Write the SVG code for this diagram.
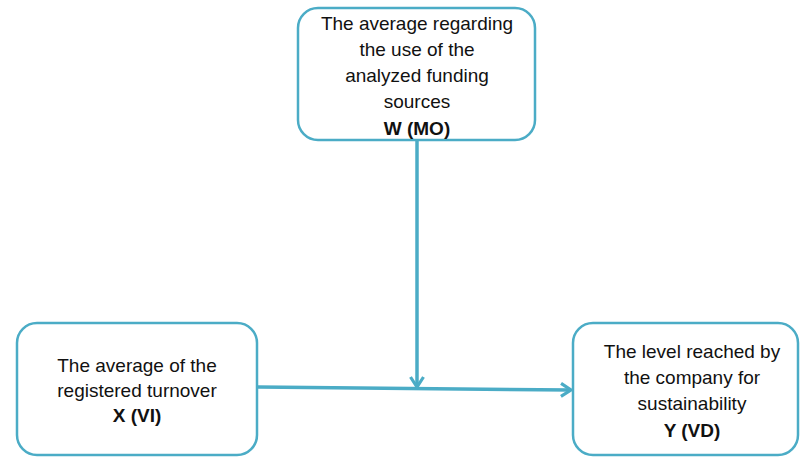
<svg xmlns="http://www.w3.org/2000/svg" width="800" height="457" viewBox="0 0 800 457">
<defs>
<style>
.box{fill:#ffffff;stroke:#4bacc6;stroke-width:2.5}
.t{font-family:"Liberation Sans",Arial,sans-serif;font-size:19px;fill:#111;text-anchor:middle}
.b{font-weight:bold}
.c{stroke:#4bacc6;stroke-width:3.5;fill:none}
</style>
<marker id="ah" markerWidth="16" markerHeight="16" refX="12" refY="8" orient="auto" markerUnits="userSpaceOnUse">
<path d="M2,1.5 L12,8 L2,14.5" fill="none" stroke="#4bacc6" stroke-width="3.2"/>
</marker>
</defs>
<rect width="800" height="457" fill="#ffffff"/>
<g id="connectors">
<line class="c" x1="258" y1="387" x2="571" y2="390" marker-end="url(#ah)"/>
<line class="c" x1="417" y1="141" x2="417" y2="387" marker-end="url(#ah)"/>
</g>
<g id="nodeW">
<rect class="box" x="298" y="8" width="237" height="132" rx="20"/>
<text class="t" x="417" y="30">The average regarding</text>
<text class="t" x="417" y="56">the use of the</text>
<text class="t" x="417" y="82">analyzed funding</text>
<text class="t" x="417" y="108">sources</text>
<text class="t b" x="417" y="135">W (MO)</text>
</g>
<g id="nodeX">
<rect class="box" x="17" y="323" width="240" height="132" rx="20"/>
<text class="t" x="137" y="372">The average of the</text>
<text class="t" x="137" y="397">registered turnover</text>
<text class="t b" x="137" y="422">X (VI)</text>
</g>
<g id="nodeY">
<rect class="box" x="573" y="323" width="225" height="132" rx="20"/>
<text class="t" x="692" y="358">The level reached by</text>
<text class="t" x="692" y="384">the company for</text>
<text class="t" x="692" y="410">sustainability</text>
<text class="t b" x="692" y="437">Y (VD)</text>
</g>
</svg>
